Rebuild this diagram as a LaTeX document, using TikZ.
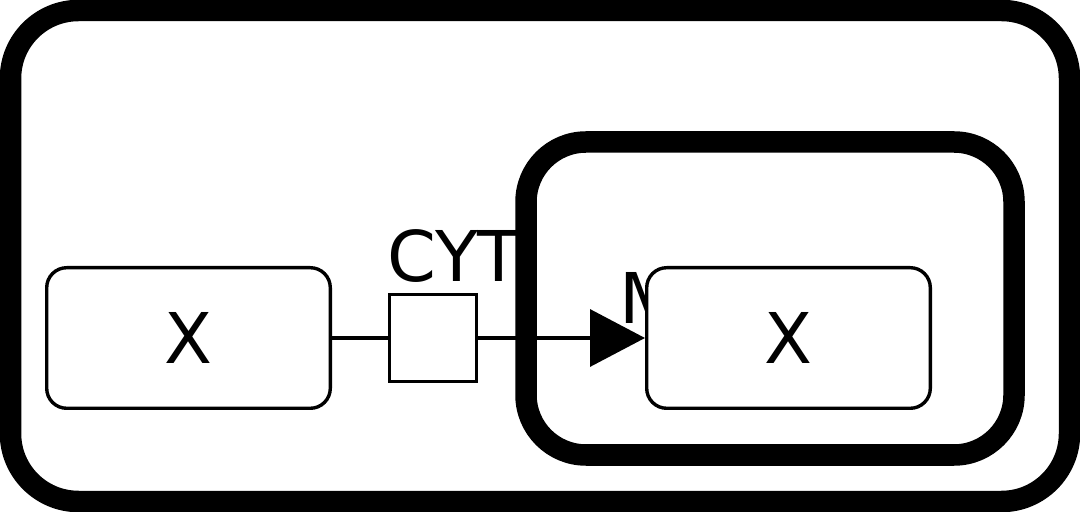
\documentclass[tikz,border=0pt]{standalone}
\usepackage{fontspec}
\setmainfont{DejaVu Sans}
\usepackage{tikz}
\usetikzlibrary{positioning}
\usetikzlibrary{arrows.meta}

\begin{document}
\begin{tikzpicture}[x=0.5pt, y=-0.5pt,
        every node/.style={font=\fontsize{35}{42}\selectfont},
        macro/.style={draw, fill=white, line width=1.7pt, rounded corners=10pt,
            minimum width=141.8pt, minimum height=70.3pt, inner sep=0pt},
        procbox/.style={draw, fill=white, line width=1.7pt, minimum size=43.3pt, inner sep=0pt},
        comp/.style={draw, line width=10.75pt},
        compname/.style={inner sep=0pt, anchor=base west},
        edge/.style={line width=1.7pt}]
    \useasboundingbox (0,0) rectangle (1080,512);
    % compartments
    \draw[comp, rounded corners=34pt] (10.5,10.5) rectangle (1069.5,501.5);
    \node[compname] (cyt) at (387,282) {CYT};
    \draw[comp, rounded corners=30pt] (526,142) rectangle (1014,455);
    \node[compname] (mito) at (619,324) {M};
    % glyphs
    \node[macro] (x1) at (188.5,338) {X};
    \node[procbox, right=28pt of x1] (proc) {};
    \node[macro, right=83.5pt of proc] (x2) {X};
    \draw[edge] (x1) -- (proc);
    \draw[edge, -{Triangle[length=27.5pt, width=28.5pt]}] (proc) -- (x2);
\end{tikzpicture}
\end{document}
